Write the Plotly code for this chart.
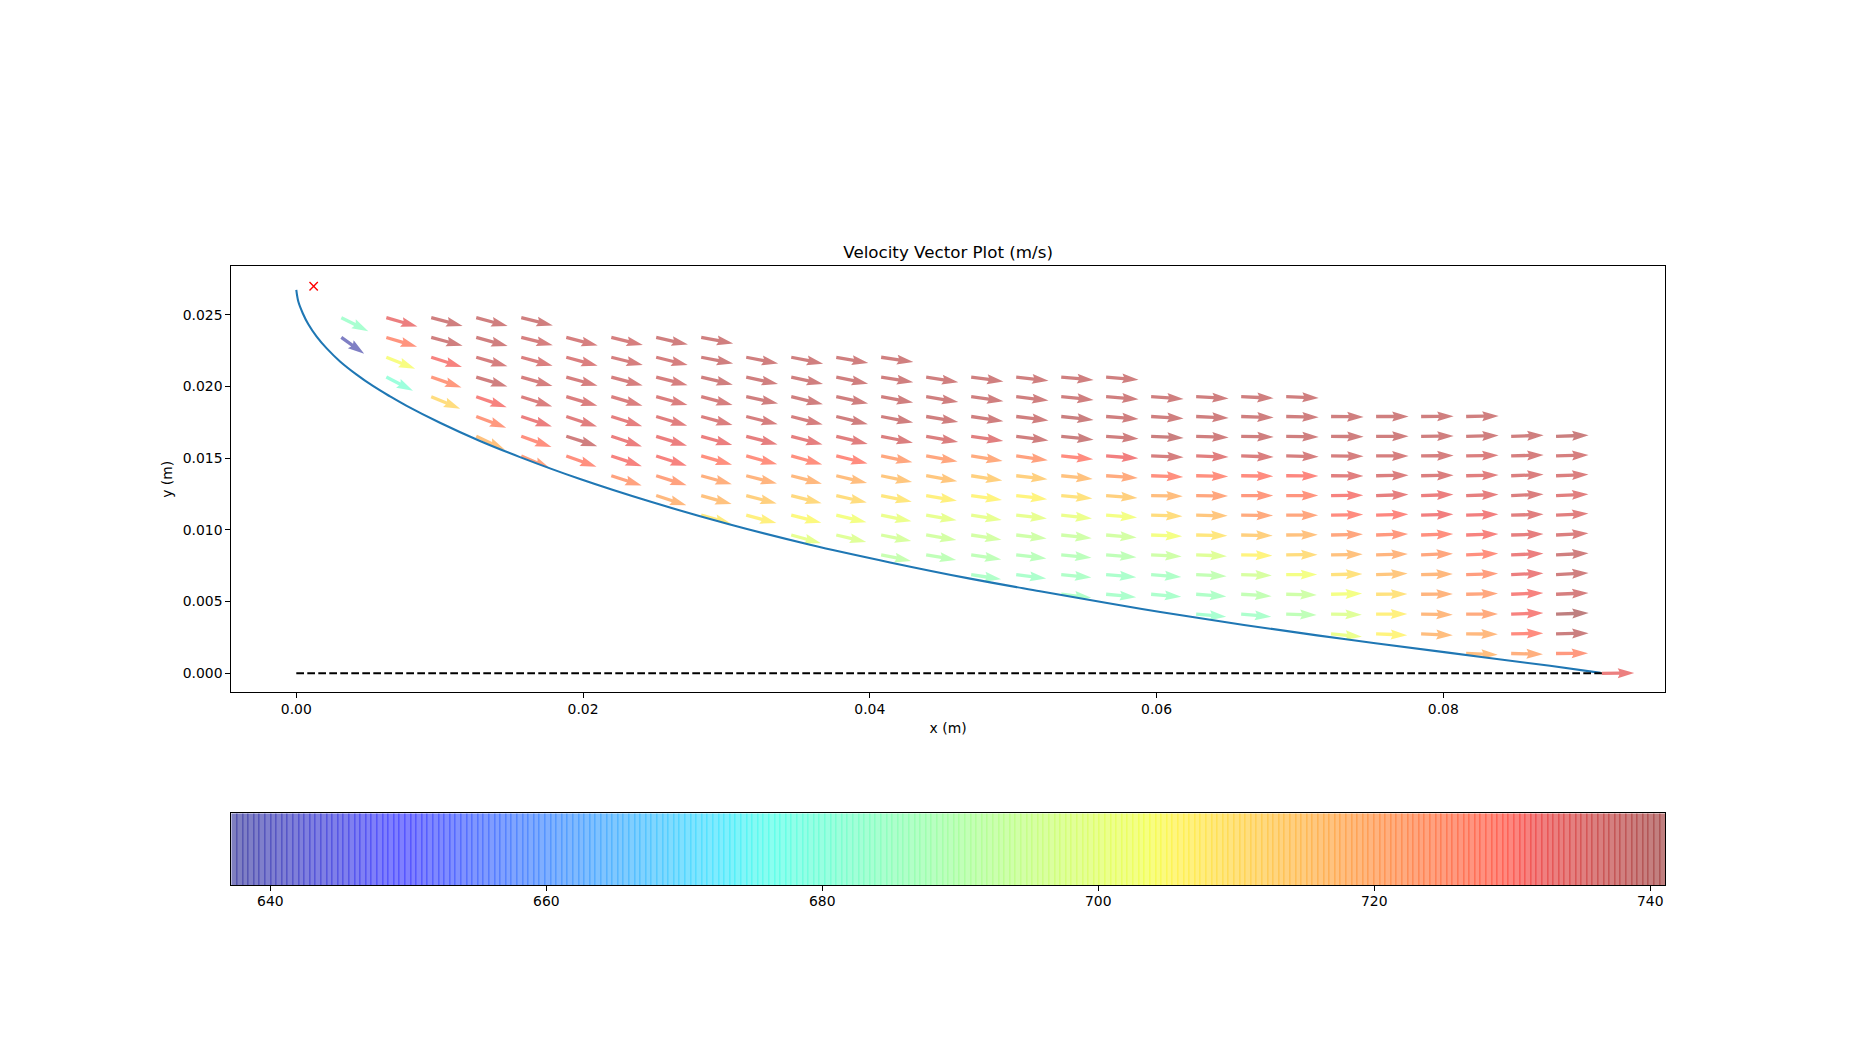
import math
import numpy as np
import plotly.graph_objects as go

# ---- Data ----
TITLE = "Velocity Vector Plot (m/s)"
X_LABEL = "x (m)"
Y_LABEL = "y (m)"

# Wall contour (m)
CURVE_X = [0.0, .00014, .00045, .00084, .00142, .00212, .00305, .00421, .00537, .00654,
           .00770, .01002, .01281, .01560, .01979, .02467, .03025, .03583, .04141, .04699,
           .05187, .05898, .06610, .07321, .08033, .08744, .09097]
CURVE_Y = [.02672, .02591, .02510, .02433, .02347, .02265, .02174, .02082, .02001, .01930,
           .01864, .01746, .01619, .01507, .01354, .01197, .01037, .00896, .00773, .00660,
           .00572, .00448, .00337, .00237, .00144, .00052, .00003]

AXIS_LINE_X = [0.0, .09106]
AXIS_LINE_Y = [0.0, 0.0]
MARK_X = [.00121]
MARK_Y = [.02698]

# Arrow tail columns (m)
COL_X = [.00314, .00628, .00941, .01255, .01569, .01883, .02197, .02510, .02824, .03138,
         .03452, .03766, .04079, .04393, .04707, .05021, .05335, .05648, .05962, .06276,
         .06590, .06904, .07217, .07531, .07845, .08159, .08473, .08786, .09106]
# Arrow tail rows (m), index = row number
ROW_Y = [0.0, .00138, .00275, .00413, .00551, .00688, .00826, .00964, .01102, .01239,
         .01377, .01515, .01652, .01790, .01928, .02065, .02203, .02341, .02479]
# Topmost row number of every column
COL_TOP = [18, 18, 18, 18, 18, 17, 17, 17, 17, 16, 16, 16, 16, 15, 15, 15, 15, 15, 14, 14,
           14, 14, 13, 13, 13, 13, 12, 12, 0]

# Speed (m/s), per column, from the top row down
SPEED = [
    [684, 638],
    [733, 727, 704, 681],
    [738, 738, 731, 726, 711],
    [738, 738, 737, 738, 731, 726, 717],
    [738, 737, 736, 737, 736, 733, 728, 724],
    [737, 736, 737, 736, 735, 738, 728],
    [737, 737, 737, 736, 734, 733, 731, 724],
    [738, 737, 737, 736, 735, 733, 731, 724, 719],
    [738, 738, 738, 737, 736, 733, 728, 721, 717, 708],
    [738, 738, 738, 737, 734, 728, 720, 714, 707],
    [738, 738, 738, 737, 734, 728, 719, 712, 705, 700],
    [738, 738, 738, 738, 735, 729, 718, 711, 703, 698],
    [738, 738, 738, 738, 736, 723, 716, 709, 701, 696, 692],
    [738, 738, 738, 736, 723, 716, 707, 700, 695, 690],
    [738, 738, 738, 735, 722, 714, 706, 700, 695, 690, 686],
    [738, 738, 738, 738, 724, 714, 706, 700, 694, 689, 685],
    [738, 738, 739, 739, 729, 717, 710, 701, 694, 689, 686, 686],
    [738, 738, 738, 738, 732, 722, 714, 703, 695, 690, 685, 685],
    [738, 738, 739, 737, 728, 718, 711, 703, 694, 686, 685],
    [738, 738, 738, 735, 728, 723, 716, 709, 698, 691, 686, 684],
    [738, 738, 738, 736, 729, 726, 722, 714, 706, 696, 691, 685],
    [738, 738, 738, 737, 730, 727, 723, 717, 711, 703, 694, 690],
    [738, 738, 737, 735, 731, 729, 723, 717, 710, 703, 698, 701],
    [738, 738, 737, 736, 734, 730, 726, 720, 716, 710, 707, 706],
    [738, 738, 737, 736, 733, 732, 728, 723, 719, 720, 719, 718],
    [738, 738, 736, 735, 734, 732, 731, 728, 725, 723, 722, 719, 718],
    [738, 737, 736, 736, 735, 734, 733, 733, 731, 731, 729, 721],
    [739, 737, 736, 735, 735, 736, 738, 738, 737, 741, 739, 726],
    [733],
]

# Flow angle below the horizontal (degrees), same layout as SPEED
ANGLE = [
    [26.6, 35.6],
    [16.0, 16.7, 21.7, 27.4],
    [14.9, 14.9, 17.5, 19.0, 22.4],
    [15.0, 15.0, 16.2, 16.8, 19.0, 20.5, 25.0],
    [13.9, 13.9, 15.0, 16.0, 17.5, 18.2, 19.6, 23.5],
    [14.4, 15.0, 15.5, 16.4, 18.2, 17.7, 19.8],
    [13.5, 14.0, 15.0, 16.0, 17.5, 18.2, 18.4, 17.9],
    [12.7, 13.9, 14.4, 15.0, 16.5, 17.0, 17.9, 17.3, 17.8],
    [10.6, 11.2, 13.5, 14.8, 15.0, 15.7, 16.0, 15.4, 15.7, 15.7],
    [11.2, 12.3, 12.1, 14.0, 14.6, 15.2, 14.3, 14.6, 14.6],
    [11.3, 12.5, 13.3, 14.2, 14.8, 15.3, 14.5, 14.2, 14.2, 15.3],
    [10.0, 11.9, 12.2, 13.6, 13.6, 13.6, 13.3, 13.0, 13.0, 13.0],
    [8.4, 9.0, 10.4, 10.7, 11.3, 11.3, 11.6, 11.3, 11.3, 11.3, 11.6],
    [9.0, 9.3, 9.6, 10.1, 10.1, 9.9, 9.6, 9.6, 9.6, 9.9],
    [7.8, 8.0, 8.4, 8.4, 9.0, 8.7, 8.4, 9.0, 9.0, 8.7, 9.0],
    [6.6, 6.9, 7.2, 7.2, 7.8, 6.3, 6.6, 6.0, 6.6, 6.9, 7.2],
    [5.4, 5.7, 6.0, 6.0, 6.0, 5.7, 5.4, 6.0, 6.0, 5.7, 5.4, 6.6],
    [4.9, 4.6, 4.3, 4.3, 4.3, 4.0, 4.3, 4.3, 4.9, 4.6, 4.9, 5.5],
    [4.0, 3.6, 3.0, 2.4, 2.1, 1.2, 1.8, 2.4, 3.3, 4.8, 4.8],
    [3.2, 2.6, 2.0, 2.0, 1.4, 0.8, 1.2, 1.6, 2.5, 3.2, 4.2, 5.0],
    [2.6, 1.8, 1.2, 1.8, 0.9, 0.0, 0.6, 1.2, 1.5, 1.8, 3.6, 5.3],
    [2.1, 1.5, 1.2, 1.2, 0.3, 0.0, 0.0, -0.6, -0.3, 0.0, 1.2, 1.8],
    [0.7, 0.6, 0.6, 0.3, -0.6, -1.2, -1.2, -0.9, -1.2, -1.2, 1.2, 5.3],
    [0.0, 0.0, 0.0, -0.9, -1.8, -1.8, -1.8, -1.5, -1.8, -0.6, 0.0, 2.4],
    [-0.4, -0.6, -0.6, -0.9, -1.8, -1.8, -1.8, -2.1, -1.2, -0.6, 1.2, 2.4],
    [-1.0, -1.2, -1.2, -1.5, -1.8, -1.8, -1.8, -2.1, -1.8, -1.2, 0.0, 0.6, 2.4],
    [-1.8, -1.8, -2.1, -2.4, -1.8, -1.8, -2.1, -2.4, -2.4, -1.8, -1.2, 1.2],
    [-1.8, -1.8, -2.1, -2.4, -2.9, -2.9, -2.6, -2.9, -2.4, -1.8, -1.2, -0.6],
    [-0.3],
]

X_TICKS = [0.0, 0.02, 0.04, 0.06, 0.08]
X_TICK_TEXT = ["0.00", "0.02", "0.04", "0.06", "0.08"]
Y_TICKS = [0.0, 0.005, 0.01, 0.015, 0.02, 0.025]
Y_TICK_TEXT = ["0.000", "0.005", "0.010", "0.015", "0.020", "0.025"]
CB_TICKS = [640, 660, 680, 700, 720, 740]
VMIN, VMAX = 637.17, 741.07
CB_LEVELS = 256

# ---- Layout (pixels of the 1850 x 1050 page) ----
W, H = 1850, 1050
PX_L, PX_R = 231.25, 1665.0
PX_T, PX_B = 266.3, 692.3
CB_T, CB_B = 813.3, 885.3
X_RANGE = [-0.004537, 0.09546]
Y_RANGE = [-0.001325, 0.02837]
PX_PER_X = (PX_R - PX_L) / (X_RANGE[1] - X_RANGE[0])
PX_PER_Y = (PX_B - PX_T) / (Y_RANGE[1] - Y_RANGE[0])

# Matplotlib "jet" segments
JET_R = ([0, .35, .66, .89, 1], [0, 0, 1, 1, .5])
JET_G = ([0, .125, .375, .64, .91, 1], [0, 0, 1, 1, 0, 0])
JET_B = ([0, .11, .34, .65, 1], [.5, 1, 1, 0, 0])


def jet(t):
    return tuple(int(round(255 * np.interp(t, *seg))) for seg in (JET_R, JET_G, JET_B))


def arrow_polygon(x0, y0, speed, angle):
    """Quiver-style arrow: shaft, barbed head; sized in pixels, returned in data units."""
    w = 3.3
    length = 0.0441 * speed
    along = [0, length - 4.5 * w, length - 5 * w, length, length - 5 * w, length - 4.5 * w, 0, 0]
    across = [w / 2, w / 2, 1.5 * w, 0, -1.5 * w, -w / 2, -w / 2, w / 2]
    a = math.radians(angle)
    xs = [x0 + (p * math.cos(a) - q * math.sin(a)) / PX_PER_X for p, q in zip(along, across)]
    ys = [y0 - (p * math.sin(a) + q * math.cos(a)) / PX_PER_Y for p, q in zip(along, across)]
    return xs, ys


fig = go.Figure()

# Arrows
for cx, top, speeds, angles in zip(COL_X, COL_TOP, SPEED, ANGLE):
    for n, (s, ang) in enumerate(zip(speeds, angles)):
        px, py = arrow_polygon(cx, ROW_Y[top - n], s, ang)
        r, g, b = jet((s - VMIN) / (VMAX - VMIN))
        fig.add_trace(go.Scatter(x=px, y=py, mode="lines", fill="toself",
                                 fillcolor=f"rgba({r},{g},{b},0.5)",
                                 line=dict(width=0), hoverinfo="skip", showlegend=False))

# The wall hides whatever lies under the contour
fig.add_trace(go.Scatter(x=CURVE_X + [0.0], y=CURVE_Y + [0.0], mode="lines", fill="toself",
                         fillcolor="white", line=dict(width=0), hoverinfo="skip", showlegend=False))
fig.add_trace(go.Scatter(x=CURVE_X, y=CURVE_Y, mode="lines",
                         line=dict(color="#1f77b4", width=2.08, shape="spline", smoothing=1.0),
                         hoverinfo="skip", showlegend=False))
fig.add_trace(go.Scatter(x=AXIS_LINE_X, y=AXIS_LINE_Y, mode="lines",
                         line=dict(color="black", width=2.08, dash="7.7px,3.3px"),
                         hoverinfo="skip", showlegend=False))
fig.add_trace(go.Scatter(x=MARK_X, y=MARK_Y, mode="markers",
                         marker=dict(symbol="x-thin", size=8.3, line=dict(color="red", width=1.4)),
                         hoverinfo="skip", showlegend=False))

# Colour bar
scale = [[i / 255, "rgb(%d,%d,%d)" % jet(i / 255)] for i in range(256)]
edges = np.linspace(VMIN, VMAX, CB_LEVELS + 1)
mids = (edges[:-1] + edges[1:]) / 2
fig.add_trace(go.Heatmap(x=edges, y=[0, 1], z=[mids], zmin=VMIN, zmax=VMAX, colorscale=scale,
                         opacity=0.5, showscale=False, hoverinfo="skip", xaxis="x2", yaxis="y2"))
half = 0.5 * (VMAX - VMIN) / (PX_R - PX_L)
seam_x, seam_z = [], []
for e, m in zip(edges[1:-1], mids[1:]):
    seam_x += [e - half, e + half]
    seam_z += [m, None]
fig.add_trace(go.Heatmap(x=seam_x, y=[0, 1], z=[seam_z[:-1]], zmin=VMIN, zmax=VMAX, colorscale=scale,
                         opacity=0.5, showscale=False, hoverinfo="skip", xaxis="x2", yaxis="y2"))

FONT = dict(family="DejaVu Sans", size=13.9, color="black")
AXIS = dict(showgrid=False, zeroline=False, showline=True, mirror=True, linecolor="black",
            linewidth=1.1, ticks="outside", ticklen=4.9, tickwidth=1.1, tickcolor="black",
            tickfont=FONT, automargin=False)

fig.update_layout(
    width=W, height=H, margin=dict(l=0, r=0, t=0, b=0),
    paper_bgcolor="white", plot_bgcolor="white", showlegend=False, font=FONT,
    title=dict(text=TITLE, x=(PX_L + PX_R) / 2 / W, xref="paper", xanchor="center",
               y=1 - 252 / H, yref="paper", yanchor="middle",
               font=dict(family="DejaVu Sans", size=16.7, color="black")),
    xaxis=dict(AXIS, domain=[PX_L / W, PX_R / W], range=X_RANGE, tickmode="array",
               tickvals=X_TICKS, ticktext=X_TICK_TEXT, anchor="y", ticklabelstandoff=-1,
               title=dict(text=X_LABEL, font=FONT, standoff=7)),
    yaxis=dict(AXIS, domain=[1 - PX_B / H, 1 - PX_T / H], range=Y_RANGE, tickmode="array",
               tickvals=Y_TICKS, ticktext=Y_TICK_TEXT, anchor="x",
               title=dict(text=Y_LABEL, font=FONT, standoff=6)),
    xaxis2=dict(AXIS, domain=[PX_L / W, PX_R / W], range=[VMIN, VMAX], tickmode="array",
                tickvals=CB_TICKS, anchor="y2", ticklabelstandoff=-2),
    yaxis2=dict(AXIS, domain=[1 - CB_B / H, 1 - CB_T / H], range=[0, 1], ticks="",
                showticklabels=False, anchor="x2"),
)

fig.write_html("out.html", config={"displayModeBar": False},
               post_script="document.body.style.margin='0';")
